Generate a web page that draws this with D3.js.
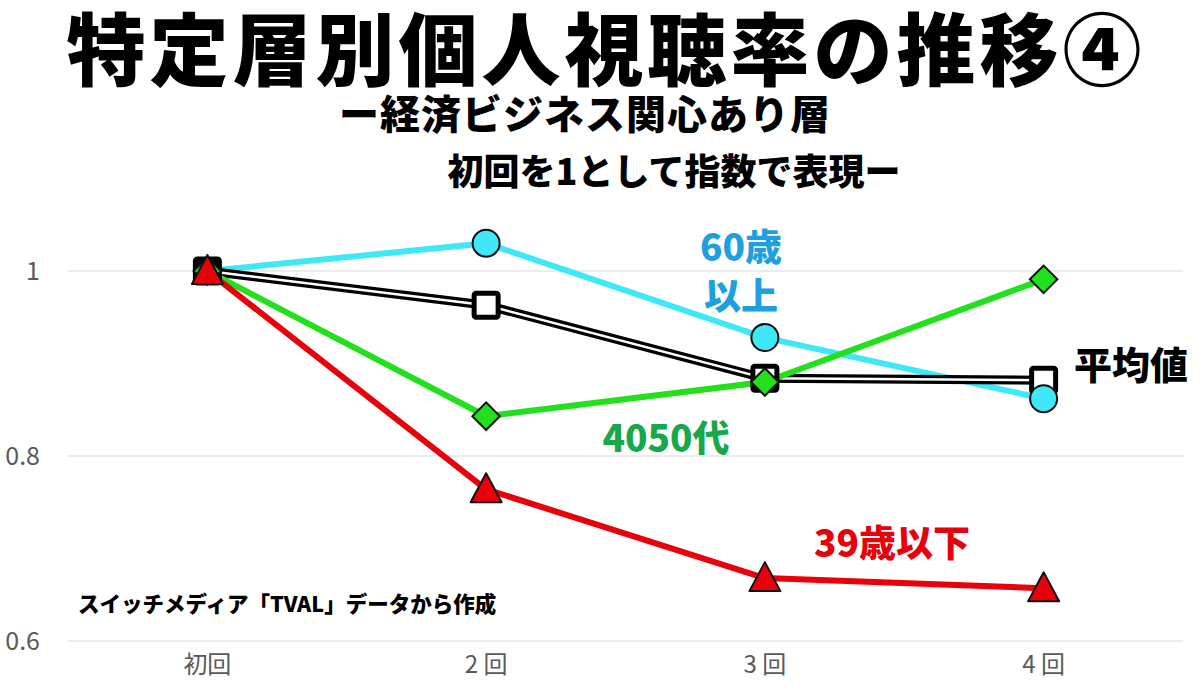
<!DOCTYPE html>
<html><head><meta charset="utf-8">
<script src="https://cdn.jsdelivr.net/npm/d3@7"></script>
<style>
html,body{margin:0;padding:0;background:#fff;}
svg{display:block;}
</style></head>
<body>
<svg id="chart" width="1200" height="697"></svg>
<script>
const categories = ["初回", "2回", "3回", "4回"];
const yTicks = [0.6, 0.8, 1];
const avgValues = [1, 0.963, 0.884, 0.882];
const over60Values = [1, 1.030, 0.928, 0.862];
const age4050Values = [1, 0.843, 0.880, 0.991];
const under39Values = [1, 0.764, 0.668, 0.657];

const titleText = "特定層別個人視聴率の推移④";
const subtitle1 = "ー経済ビジネス関心あり層";
const subtitle2 = "初回を1として指数で表現ー";
const sourceText = "スイッチメディア「TVAL」データから作成";

const svg = d3.select("#chart");
const FONT = "'Noto Sans CJK JP','Noto Sans',sans-serif";

const x = d3.scaleBand().domain(categories).range([68, 1183]);
const xc = d => x(d) + x.bandwidth() / 2;
const y = d3.scaleLinear().domain([0.6, 1]).range([641, 271]);

// gridlines
svg.append("g").selectAll("line").data(yTicks).join("line")
  .attr("x1", 68).attr("x2", 1183)
  .attr("y1", d => y(d)).attr("y2", d => y(d))
  .attr("stroke", "#d9d9d9").attr("stroke-width", 1);

// y axis labels
const yAxis = d3.axisLeft(y).tickValues(yTicks).tickSize(0).tickPadding(0)
  .tickFormat(d => d === 1 ? "1" : d3.format(".1f")(d));
const yg = svg.append("g").attr("transform", "translate(40,0)").call(yAxis);
yg.select(".domain").remove();
yg.selectAll("text").attr("font-family", FONT).attr("font-size", 25).attr("fill", "#595959");

// x axis labels
const xAxis = d3.axisBottom(x).tickSize(0).tickPadding(0);
const xg = svg.append("g").attr("transform", "translate(0,656)").call(xAxis);
xg.select(".domain").remove();
xg.selectAll("text").attr("font-family", FONT).attr("font-size", 24).attr("fill", "#595959")
  .text(d => d.replace(/^(\d)/, "$1 "));

const line = d3.line().x((d, i) => xc(categories[i])).y(d => y(d));

// lines
svg.append("path").datum(over60Values).attr("d", line).attr("fill", "none")
  .attr("stroke", "#3ee8f8").attr("stroke-width", 6).attr("stroke-linejoin", "round");
svg.append("path").datum(avgValues).attr("d", line).attr("fill", "none")
  .attr("stroke", "#000").attr("stroke-width", 9);
svg.append("path").datum(avgValues).attr("d", line).attr("fill", "none")
  .attr("stroke", "#fff").attr("stroke-width", 2.5);
svg.append("path").datum(age4050Values).attr("d", line).attr("fill", "none")
  .attr("stroke", "#22e01c").attr("stroke-width", 6).attr("stroke-linejoin", "round");
svg.append("path").datum(under39Values).attr("d", line).attr("fill", "none")
  .attr("stroke", "#e8000b").attr("stroke-width", 6).attr("stroke-linejoin", "round");

// markers
svg.append("g").selectAll("rect").data(avgValues).join("rect")
  .attr("x", (d, i) => xc(categories[i]) - 12).attr("y", d => y(d) - 12)
  .attr("width", 24).attr("height", 24).attr("rx", 2)
  .attr("fill", (d, i) => i === 0 ? "#000" : "#fff").attr("stroke", "#000").attr("stroke-width", 5);
svg.append("g").selectAll("circle").data(over60Values.slice(1)).join("circle")
  .attr("cx", (d, i) => xc(categories[i + 1])).attr("cy", d => y(d)).attr("r", 13.5)
  .attr("fill", "#3ee8f8").attr("stroke", "#111").attr("stroke-width", 2);
const diamond = d3.symbol().type(d3.symbolSquare).size(380);
svg.append("g").selectAll("path").data(age4050Values).join("path")
  .attr("d", diamond)
  .attr("transform", (d, i) => `translate(${xc(categories[i])},${y(d)}) rotate(45)`)
  .attr("fill", "#22e01c").attr("stroke", "#111").attr("stroke-width", 2);
svg.append("g").selectAll("path").data(under39Values).join("path")
  .attr("d", "M0,-17 L15.5,12 L-15.5,12 Z")
  .attr("transform", (d, i) => `translate(${xc(categories[i])},${y(d) + 1})`)
  .attr("fill", "#e8000b").attr("stroke", "#111").attr("stroke-width", 2).attr("stroke-linejoin", "round");

// titles
svg.append("text").attr("x", 606).attr("y", 80).attr("text-anchor", "middle")
  .attr("font-family", FONT).attr("font-weight", 900).attr("font-size", 79)
  .attr("letter-spacing", 4)
  .attr("fill", "#000").text(titleText);
svg.append("text").attr("x", 585).attr("y", 129).attr("text-anchor", "middle")
  .attr("font-family", FONT).attr("font-weight", 900).attr("font-size", 40)
  .attr("letter-spacing", 1)
  .attr("fill", "#000").text(subtitle1);
svg.append("text").attr("x", 674).attr("y", 185).attr("text-anchor", "middle")
  .attr("font-family", FONT).attr("font-weight", 900).attr("font-size", 36)
  .attr("fill", "#000").text(subtitle2);

// series labels
const lab = (t, xx, yy, col, fs) => svg.append("text").attr("x", xx).attr("y", yy)
  .attr("text-anchor", "middle").attr("font-family", FONT).attr("font-weight", 900)
  .attr("font-size", fs).attr("fill", col).text(t);
lab("60歳", 741, 261, "#1ea0e0", 37);
lab("以上", 741, 310, "#1ea0e0", 37);
lab("平均値", 1131, 379, "#000", 38);
lab("4050代", 666, 452, "#16a84a", 37);
lab("39歳以下", 892, 557, "#e8000b", 37);

svg.append("text").attr("x", 78).attr("y", 612).attr("font-family", FONT)
  .attr("font-weight", 900).attr("font-size", 21.5).attr("fill", "#000").text(sourceText);
</script>
</body></html>
